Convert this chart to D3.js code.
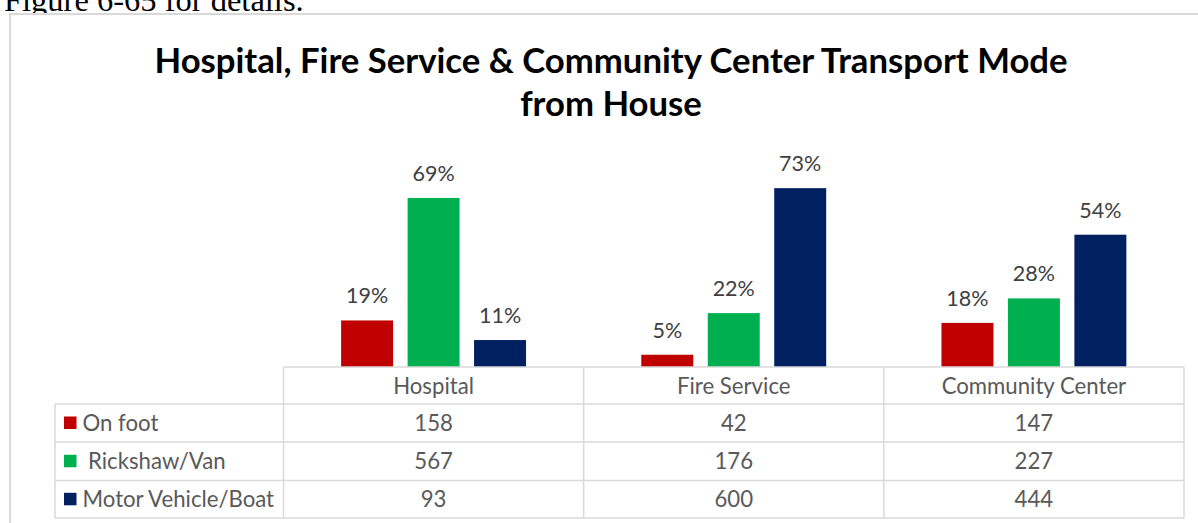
<!DOCTYPE html>
<html>
<head>
<meta charset="utf-8">
<script src="https://cdn.jsdelivr.net/npm/d3@7"></script>
<style>
  html, body { margin: 0; padding: 0; background: #fff; overflow: hidden; }
  svg { display: block; }
</style>
</head>
<body>
<svg id="chart" width="1198" height="523"></svg>
<script>
// Destinations (table columns) and transport modes (series)
const categories = ["Hospital", "Fire Service", "Community Center"];
const modes = ["On foot", "Rickshaw/Van", "Motor Vehicle/Boat"];
const modeColors = ["#C00000", "#00B050", "#002060"];

// Share of households per mode (%), as labelled on the bars
const onFootPct = [19, 5, 18];
const rickshawPct = [69, 22, 28];
const motorPct = [11, 73, 54];

// Household counts shown in the data table
const onFootCount = [158, 42, 147];
const rickshawCount = [567, 176, 227];
const motorCount = [93, 600, 444];

const pctSeries = [onFootPct, rickshawPct, motorPct];
const countSeries = [onFootCount, rickshawCount, motorCount];

const svg = d3.select("#chart");
const W = 1198, H = 523;

// Text above the chart frame (page caption, partly cut off)
svg.append("text")
  .attr("x", 4).attr("y", 11)
  .attr("font-family", "'Liberation Serif', 'Times New Roman', serif")
  .attr("font-size", 32.5)
  .attr("fill", "#000")
  .text("Figure 6-65 for details.");

// Chart frame
svg.append("rect")
  .attr("x", 10).attr("y", 14)
  .attr("width", W + 20).attr("height", H + 20)
  .attr("fill", "#fff")
  .attr("stroke", "#d9d9d9")
  .attr("stroke-width", 2);

// Title
const title = svg.append("text")
  .attr("text-anchor", "middle")
  .attr("font-family", "Lato, 'Open Sans', sans-serif")
  .attr("font-weight", "bold")
  .attr("font-size", 34.7)
  .attr("fill", "#000");
title.append("tspan").attr("x", 611).attr("y", 73)
  .text("Hospital, Fire Service & Community Center Transport Mode");
title.append("tspan").attr("x", 611).attr("y", 116)
  .text("from House");

// Scales
const tableLeft = 55, colLeft = 283.5, tableRight = 1184;
const baseY = 367, rowH = [37, 38, 38.5, 37.6];

const x = d3.scaleBand()
  .domain(categories)
  .range([colLeft, tableRight])
  .paddingInner(0).paddingOuter(0);

const x1 = d3.scaleBand()
  .domain(modes)
  .range([0, x.bandwidth()])
  .paddingInner(0.218)
  .paddingOuter(0.867);

const y = d3.scaleLinear()
  .domain([0, 80])
  .range([baseY, baseY - 196]);

// Bars
const fontMain = "Lato, 'Open Sans', sans-serif";
const groups = svg.append("g").selectAll("g")
  .data(categories)
  .join("g")
  .attr("transform", d => `translate(${x(d)},0)`);

groups.selectAll("rect")
  .data((c, ci) => modes.map((m, mi) => ({ mode: m, value: pctSeries[mi][ci], color: modeColors[mi] })))
  .join("rect")
  .attr("x", d => x1(d.mode))
  .attr("y", d => y(d.value))
  .attr("width", x1.bandwidth())
  .attr("height", d => baseY - y(d.value))
  .attr("fill", d => d.color);

groups.selectAll("text.pct")
  .data((c, ci) => modes.map((m, mi) => ({ mode: m, value: pctSeries[mi][ci] })))
  .join("text")
  .attr("class", "pct")
  .attr("x", d => x1(d.mode) + x1.bandwidth() / 2)
  .attr("y", d => y(d.value) - 17)
  .attr("text-anchor", "middle")
  .attr("font-family", fontMain)
  .attr("font-size", 21.5)
  .attr("fill", "#404040")
  .text(d => d.value + "%");

// Data table
const rowTops = [baseY];
rowH.forEach((h, i) => rowTops.push(rowTops[i] + h));
const grid = svg.append("g")
  .attr("stroke", "#d9d9d9")
  .attr("stroke-width", 1.5)
  .attr("fill", "none");

// header row lines (only over category columns)
grid.append("line").attr("x1", colLeft).attr("x2", tableRight).attr("y1", rowTops[0]).attr("y2", rowTops[0]);
// body row lines
for (let i = 1; i < rowTops.length; i++) {
  grid.append("line").attr("x1", tableLeft).attr("x2", tableRight).attr("y1", rowTops[i]).attr("y2", rowTops[i]);
}
// vertical lines
grid.append("line").attr("x1", tableLeft).attr("x2", tableLeft).attr("y1", rowTops[1]).attr("y2", rowTops[4]);
categories.forEach(c => {
  grid.append("line").attr("x1", x(c)).attr("x2", x(c)).attr("y1", rowTops[0]).attr("y2", rowTops[4]);
});
grid.append("line").attr("x1", tableRight).attr("x2", tableRight).attr("y1", rowTops[0]).attr("y2", rowTops[4]);

const tableText = svg.append("g")
  .attr("font-family", fontMain)
  .attr("font-size", 22.2)
  .attr("fill", "#595959");

// column headers
tableText.selectAll("text.hdr")
  .data(categories)
  .join("text")
  .attr("class", "hdr")
  .attr("x", d => x(d) + x.bandwidth() / 2)
  .attr("y", rowTops[0] + 26.5)
  .attr("text-anchor", "middle")
  .text(d => d);

// row legend keys and labels
modes.forEach((m, mi) => {
  const cy = (rowTops[mi + 1] + rowTops[mi + 2]) / 2;
  svg.append("rect")
    .attr("x", 64).attr("y", cy - 6.5)
    .attr("width", 12.5).attr("height", 12.5)
    .attr("fill", modeColors[mi]);
  tableText.append("text")
    .attr("x", mi === 1 ? 88 : 82.5)
    .attr("y", cy + 8)
    .text(m);
  tableText.selectAll(null)
    .data(categories)
    .join("text")
    .attr("x", d => x(d) + x.bandwidth() / 2)
    .attr("y", cy + 8)
    .attr("text-anchor", "middle")
    .text((d, ci) => countSeries[mi][ci]);
});
</script>
</body>
</html>
